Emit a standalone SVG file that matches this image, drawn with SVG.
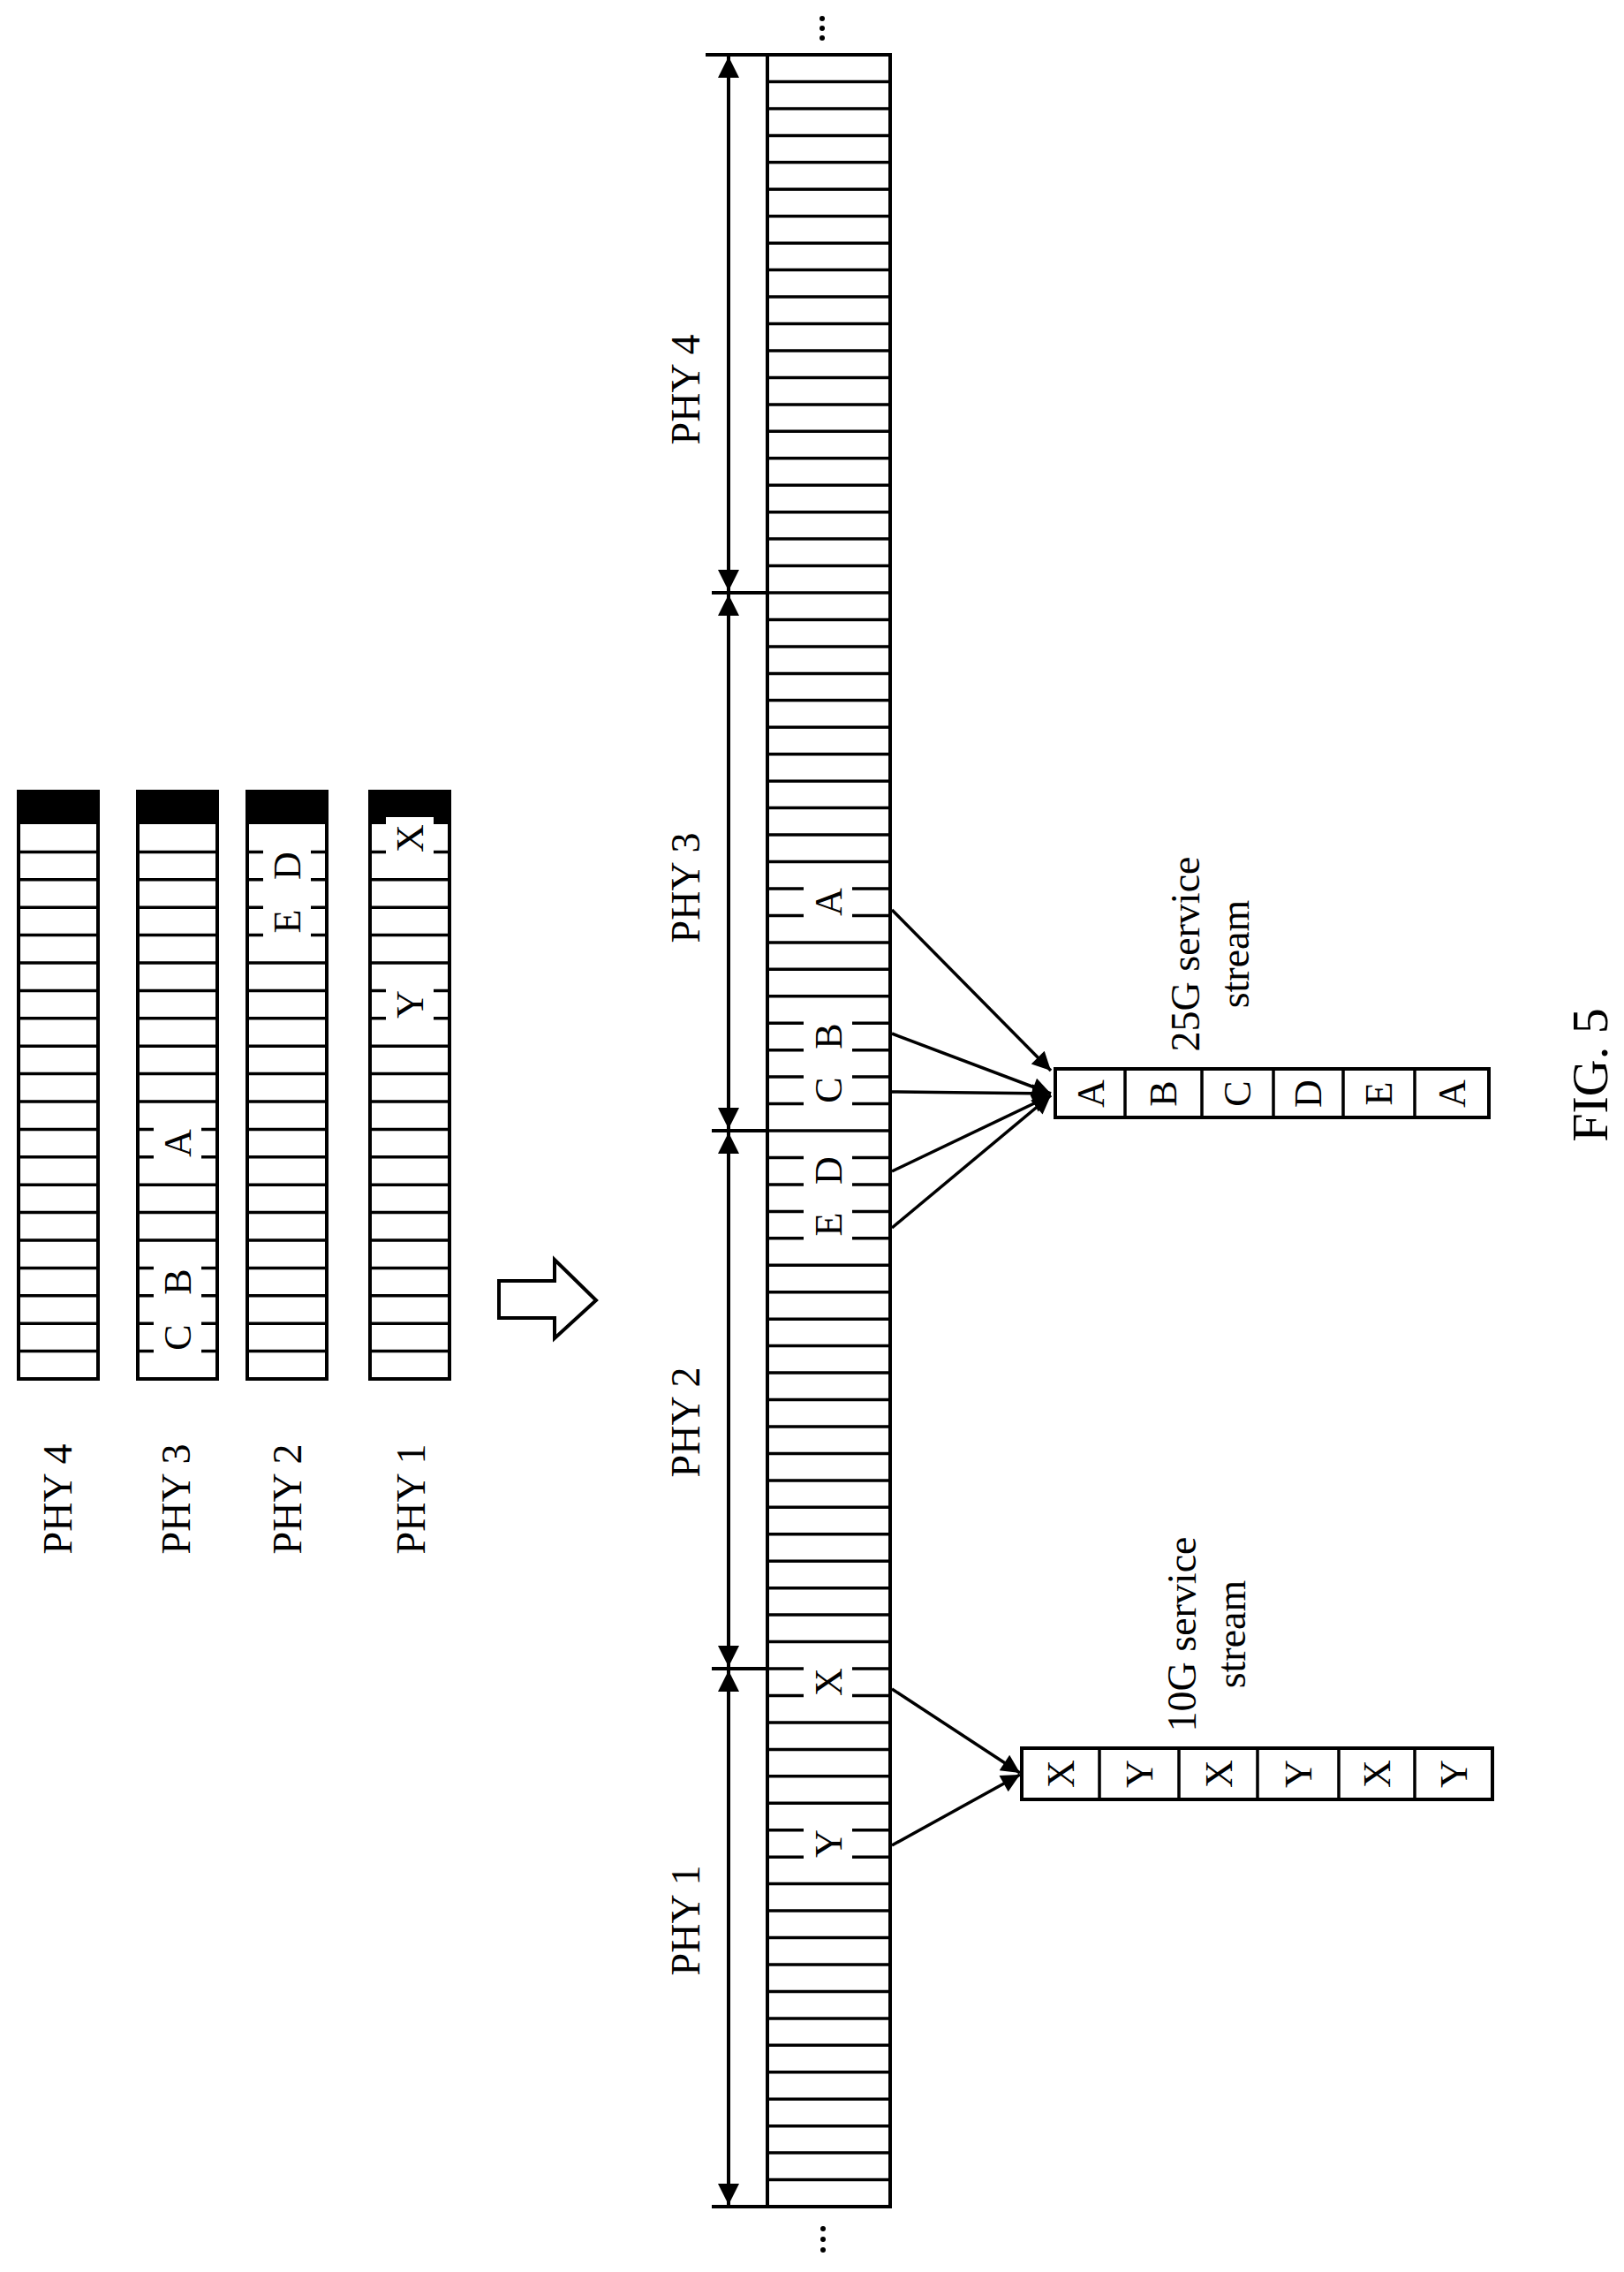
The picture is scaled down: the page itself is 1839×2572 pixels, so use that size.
<svg xmlns="http://www.w3.org/2000/svg" width="1839" height="2572" viewBox="0 0 1839 2572">
<style>
text{font-family:"Liberation Serif","Times New Roman",serif;fill:#000}
.lbl{font-size:46px}
.let{font-size:44px}
.out{fill:none;stroke:#000;stroke-width:4}
.row{fill:none;stroke:#000;stroke-width:3.5}
.gap{fill:#fff;stroke:none}
.dim{stroke:#000;stroke-width:4;fill:none}
.con{stroke:#000;stroke-width:3.5;fill:none}
</style>
<defs>
<marker id="dh" viewBox="0 0 10 10" refX="10" refY="5" markerWidth="7" markerHeight="6" markerUnits="strokeWidth" orient="auto-start-reverse"><path d="M0,0 L10,5 L0,10 z" fill="#000"/></marker>
<marker id="ah" viewBox="0 0 10 10" refX="10" refY="5" markerWidth="7" markerHeight="6" markerUnits="strokeWidth" orient="auto"><path d="M0,0 L10,5 L0,10 z" fill="#000"/></marker>
<path id="srows" d="M0,964.4h90M0,995.8h90M0,1027.2h90M0,1058.6h90M0,1090h90M0,1121.4h90M0,1152.8h90M0,1184.2h90M0,1215.6h90M0,1247h90M0,1278.4h90M0,1309.8h90M0,1341.2h90M0,1372.6h90M0,1404h90M0,1435.4h90M0,1466.8h90M0,1498.2h90M0,1529.6h90"/>
</defs>

<g id="phy4-frame">
<rect x="21" y="896" width="90" height="37" fill="#000"/>
<use href="#srows" class="row" transform="translate(21,0)"/>
<rect x="21" y="896" width="90" height="665" class="out"/>
<text class="lbl" text-anchor="middle" dominant-baseline="central" transform="translate(65,1697) rotate(-90)">PHY 4</text>
</g>
<g id="phy3-frame">
<rect x="156" y="896" width="90" height="37" fill="#000"/>
<use href="#srows" class="row" transform="translate(156,0)"/>
<rect x="156" y="896" width="90" height="665" class="out"/>
<rect class="gap" x="174" y="1276" width="54" height="36"/>
<rect class="gap" x="174" y="1433" width="54" height="36"/>
<rect class="gap" x="174" y="1496" width="54" height="36"/>
<text class="let" text-anchor="middle" dominant-baseline="central" transform="translate(201,1294) rotate(-90)">A</text>
<text class="let" text-anchor="middle" dominant-baseline="central" transform="translate(201,1451) rotate(-90)">B</text>
<text class="let" text-anchor="middle" dominant-baseline="central" transform="translate(201,1514) rotate(-90)">C</text>
<text class="lbl" text-anchor="middle" dominant-baseline="central" transform="translate(199,1697) rotate(-90)">PHY 3</text>
</g>
<g id="phy2-frame">
<rect x="280" y="896" width="90" height="37" fill="#000"/>
<use href="#srows" class="row" transform="translate(280,0)"/>
<rect x="280" y="896" width="90" height="665" class="out"/>
<rect class="gap" x="298" y="962" width="54" height="36"/>
<rect class="gap" x="298" y="1025" width="54" height="36"/>
<text class="let" text-anchor="middle" dominant-baseline="central" transform="translate(325,980) rotate(-90)">D</text>
<text class="let" text-anchor="middle" dominant-baseline="central" transform="translate(325,1043) rotate(-90)">E</text>
<text class="lbl" text-anchor="middle" dominant-baseline="central" transform="translate(325,1697) rotate(-90)">PHY 2</text>
</g>
<g id="phy1-frame">
<rect x="419" y="896" width="90" height="37" fill="#000"/>
<use href="#srows" class="row" transform="translate(419,0)"/>
<rect x="419" y="896" width="90" height="665" class="out"/>
<rect class="gap" x="437" y="925" width="54" height="42"/>
<rect class="gap" x="437" y="1119" width="54" height="36"/>
<text class="let" text-anchor="middle" dominant-baseline="central" transform="translate(464,949) rotate(-90)">X</text>
<text class="let" text-anchor="middle" dominant-baseline="central" transform="translate(464,1137) rotate(-90)">Y</text>
<text class="lbl" text-anchor="middle" dominant-baseline="central" transform="translate(465,1697) rotate(-90)">PHY 1</text>
</g>

<g id="transform-arrow">
<polygon points="565,1450 628,1450 628,1426 675,1472 628,1515 628,1492 565,1492" fill="#fff" stroke="#000" stroke-width="4"/>
</g>

<g id="combined-stream">
<path class="row" d="M869,92.5h139M869,122.9h139M869,153.4h139M869,183.8h139M869,214.3h139M869,244.7h139M869,275.2h139M869,305.6h139M869,336.1h139M869,366.5h139M869,397h139M869,427.4h139M869,457.9h139M869,488.3h139M869,518.8h139M869,549.2h139M869,579.7h139M869,610.1h139M869,640.6h139M869,671h139M869,701.5h139M869,731.9h139M869,762.4h139M869,792.8h139M869,823.3h139M869,853.7h139M869,884.2h139M869,914.6h139M869,945.1h139M869,975.5h139M869,1006h139M869,1036.4h139M869,1066.9h139M869,1097.3h139M869,1127.8h139M869,1158.2h139M869,1188.7h139M869,1219.1h139M869,1249.6h139M869,1280h139M869,1310.5h139M869,1340.9h139M869,1371.4h139M869,1401.8h139M869,1432.3h139M869,1462.7h139M869,1493.2h139M869,1523.6h139M869,1554.1h139M869,1584.5h139M869,1615h139M869,1645.4h139M869,1675.9h139M869,1706.3h139M869,1736.8h139M869,1767.2h139M869,1797.7h139M869,1828.1h139M869,1858.6h139M869,1889h139M869,1919.5h139M869,1949.9h139M869,1980.4h139M869,2010.8h139M869,2041.3h139M869,2071.7h139M869,2102.2h139M869,2132.6h139M869,2163.1h139M869,2193.5h139M869,2224h139M869,2254.4h139M869,2284.9h139M869,2315.3h139M869,2345.8h139M869,2376.2h139M869,2406.7h139M869,2437.1h139M869,2467.6h139"/>
<rect x="869" y="62" width="139" height="2436" class="out"/>
<rect class="gap" x="910" y="1003" width="55" height="37"/>
<rect class="gap" x="910" y="1155" width="55" height="37"/>
<rect class="gap" x="910" y="1216" width="55" height="37"/>
<rect class="gap" x="910" y="1307" width="55" height="37"/>
<rect class="gap" x="910" y="1368" width="55" height="37"/>
<rect class="gap" x="910" y="1886" width="55" height="37"/>
<rect class="gap" x="910" y="2069" width="55" height="37"/>
<text class="let" text-anchor="middle" dominant-baseline="central" transform="translate(938,1021) rotate(-90)">A</text>
<text class="let" text-anchor="middle" dominant-baseline="central" transform="translate(938,1173) rotate(-90)">B</text>
<text class="let" text-anchor="middle" dominant-baseline="central" transform="translate(938,1234) rotate(-90)">C</text>
<text class="let" text-anchor="middle" dominant-baseline="central" transform="translate(938,1325) rotate(-90)">D</text>
<text class="let" text-anchor="middle" dominant-baseline="central" transform="translate(938,1386) rotate(-90)">E</text>
<text class="let" text-anchor="middle" dominant-baseline="central" transform="translate(938,1904) rotate(-90)">X</text>
<text class="let" text-anchor="middle" dominant-baseline="central" transform="translate(938,2087) rotate(-90)">Y</text>
<circle cx="931" cy="21" r="3"/><circle cx="931" cy="32" r="3"/><circle cx="931" cy="43" r="3"/>
<circle cx="932" cy="2523" r="3"/><circle cx="932" cy="2535" r="3"/><circle cx="932" cy="2547" r="3"/>
</g>

<g id="dimension">
<path class="dim" d="M799,62H869M806,671H869M806,1280H869M806,1889H869M806,2498H869"/>
<line class="dim" x1="825" y1="64" x2="825" y2="669" marker-start="url(#dh)" marker-end="url(#dh)"/>
<line class="dim" x1="825" y1="673" x2="825" y2="1278" marker-start="url(#dh)" marker-end="url(#dh)"/>
<line class="dim" x1="825" y1="1282" x2="825" y2="1887" marker-start="url(#dh)" marker-end="url(#dh)"/>
<line class="dim" x1="825" y1="1891" x2="825" y2="2496" marker-start="url(#dh)" marker-end="url(#dh)"/>
<text class="lbl" text-anchor="middle" dominant-baseline="central" transform="translate(776,441) rotate(-90)">PHY 4</text>
<text class="lbl" text-anchor="middle" dominant-baseline="central" transform="translate(776,1005) rotate(-90)">PHY 3</text>
<text class="lbl" text-anchor="middle" dominant-baseline="central" transform="translate(776,1610) rotate(-90)">PHY 2</text>
<text class="lbl" text-anchor="middle" dominant-baseline="central" transform="translate(776,2174) rotate(-90)">PHY 1</text>
</g>

<g id="stream-25g">
<rect x="1195" y="1210" width="491" height="55" class="out"/>
<path class="row" d="M1274,1210v55M1361,1210v55M1442,1210v55M1521,1210v55M1602,1210v55"/>
<text class="let" text-anchor="middle" dominant-baseline="central" transform="translate(1235,1238) rotate(-90)">A</text>
<text class="let" text-anchor="middle" dominant-baseline="central" transform="translate(1317,1238) rotate(-90)">B</text>
<text class="let" text-anchor="middle" dominant-baseline="central" transform="translate(1401,1238) rotate(-90)">C</text>
<text class="let" text-anchor="middle" dominant-baseline="central" transform="translate(1481,1238) rotate(-90)">D</text>
<text class="let" text-anchor="middle" dominant-baseline="central" transform="translate(1561,1238) rotate(-90)">E</text>
<text class="let" text-anchor="middle" dominant-baseline="central" transform="translate(1644,1238) rotate(-90)">A</text>
<text class="lbl" text-anchor="middle" dominant-baseline="central" transform="translate(1342,1080) rotate(-90)">25G service</text>
<text class="lbl" text-anchor="middle" dominant-baseline="central" transform="translate(1398,1080) rotate(-90)">stream</text>
</g>

<g id="stream-10g">
<rect x="1157" y="1979" width="533" height="58" class="out"/>
<path class="row" d="M1245,1979v58M1335,1979v58M1424,1979v58M1516,1979v58M1602,1979v58"/>
<text class="let" text-anchor="middle" dominant-baseline="central" transform="translate(1201,2008) rotate(-90)">X</text>
<text class="let" text-anchor="middle" dominant-baseline="central" transform="translate(1290,2008) rotate(-90)">Y</text>
<text class="let" text-anchor="middle" dominant-baseline="central" transform="translate(1380,2008) rotate(-90)">X</text>
<text class="let" text-anchor="middle" dominant-baseline="central" transform="translate(1470,2008) rotate(-90)">Y</text>
<text class="let" text-anchor="middle" dominant-baseline="central" transform="translate(1559,2008) rotate(-90)">X</text>
<text class="let" text-anchor="middle" dominant-baseline="central" transform="translate(1646,2008) rotate(-90)">Y</text>
<text class="lbl" text-anchor="middle" dominant-baseline="central" transform="translate(1338,1850) rotate(-90)">10G service</text>
<text class="lbl" text-anchor="middle" dominant-baseline="central" transform="translate(1394,1850) rotate(-90)">stream</text>
</g>

<g id="connectors">
<line class="con" x1="1010" y1="1030" x2="1190" y2="1212" marker-end="url(#ah)"/>
<line class="con" x1="1010" y1="1170" x2="1190" y2="1238" marker-end="url(#ah)"/>
<line class="con" x1="1010" y1="1236" x2="1190" y2="1238" marker-end="url(#ah)"/>
<line class="con" x1="1010" y1="1326" x2="1190" y2="1240" marker-end="url(#ah)"/>
<line class="con" x1="1010" y1="1390" x2="1190" y2="1240" marker-end="url(#ah)"/>
<line class="con" x1="1010" y1="1912" x2="1155" y2="2007" marker-end="url(#ah)"/>
<line class="con" x1="1010" y1="2089" x2="1155" y2="2009" marker-end="url(#ah)"/>
</g>

<g id="caption">
<text font-size="58" text-anchor="middle" dominant-baseline="central" transform="translate(1800,1217) rotate(-90)">FIG. 5</text>
</g>
</svg>
